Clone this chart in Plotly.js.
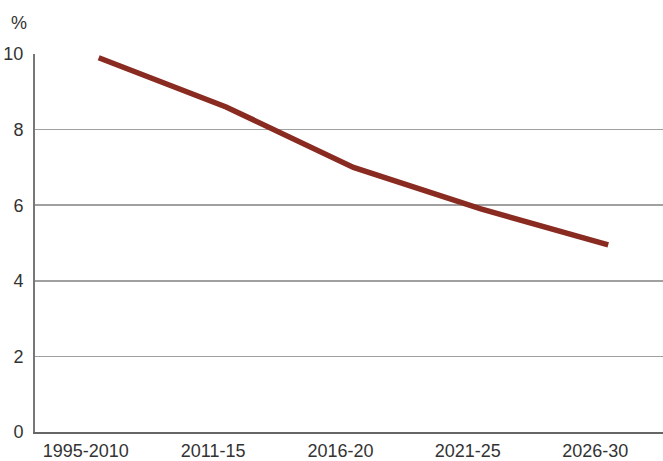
<!DOCTYPE html>
<html>
<head>
<meta charset="utf-8">
<script src="https://cdn.plot.ly/plotly-3.0.1.min.js"></script>
<style>html,body{margin:0;padding:0;background:#fff;}#chart{width:663px;height:461px;}</style>
</head>
<body>
<div id="chart"></div>
<script>
const categories = ["1995-2010", "2011-15", "2016-20", "2021-25", "2026-30"];
const values = [9.9, 8.6, 7.0, 5.9, 4.95];
const yTicks = [0, 2, 4, 6, 8, 10];
const unitLabel = "%";

const trace = {
  x: categories,
  y: values,
  type: "scatter",
  mode: "lines",
  line: {color: "#8a2b22", width: 5.5},
  hoverinfo: "skip"
};

const layout = {
  width: 663, height: 461,
  margin: {l: 35, r: 0, t: 54, b: 29, pad: 0},
  paper_bgcolor: "#ffffff",
  plot_bgcolor: "#ffffff",
  showlegend: false,
  font: {family: "Liberation Sans, Arial, sans-serif", color: "#333333", size: 18},
  xaxis: {
    type: "category",
    range: [-0.5, 4.43],
    showgrid: false,
    zeroline: false,
    showline: true,
    linecolor: "#666666",
    linewidth: 2,
    ticks: "",
    ticklabelshift: -13,
    ticklabelstandoff: 1,
    tickfont: {size: 18, color: "#333333"}
  },
  yaxis: {
    range: [0, 10],
    tickvals: yTicks,
    showgrid: true,
    gridcolor: "#a0a0a0",
    gridwidth: 1.5,
    zeroline: false,
    showline: true,
    linecolor: "#777777",
    linewidth: 2,
    ticks: "",
    ticklabelstandoff: 6,
    tickfont: {size: 18, color: "#333333"}
  },
  annotations: [{
    text: unitLabel, xref: "paper", yref: "paper",
    x: -0.01, y: 1, xanchor: "right", yanchor: "bottom", yshift: 19,
    showarrow: false, font: {size: 18, color: "#333333"}
  }]
};

Plotly.newPlot("chart", [trace], layout, {staticPlot: true, displayModeBar: false});
</script>
</body>
</html>
